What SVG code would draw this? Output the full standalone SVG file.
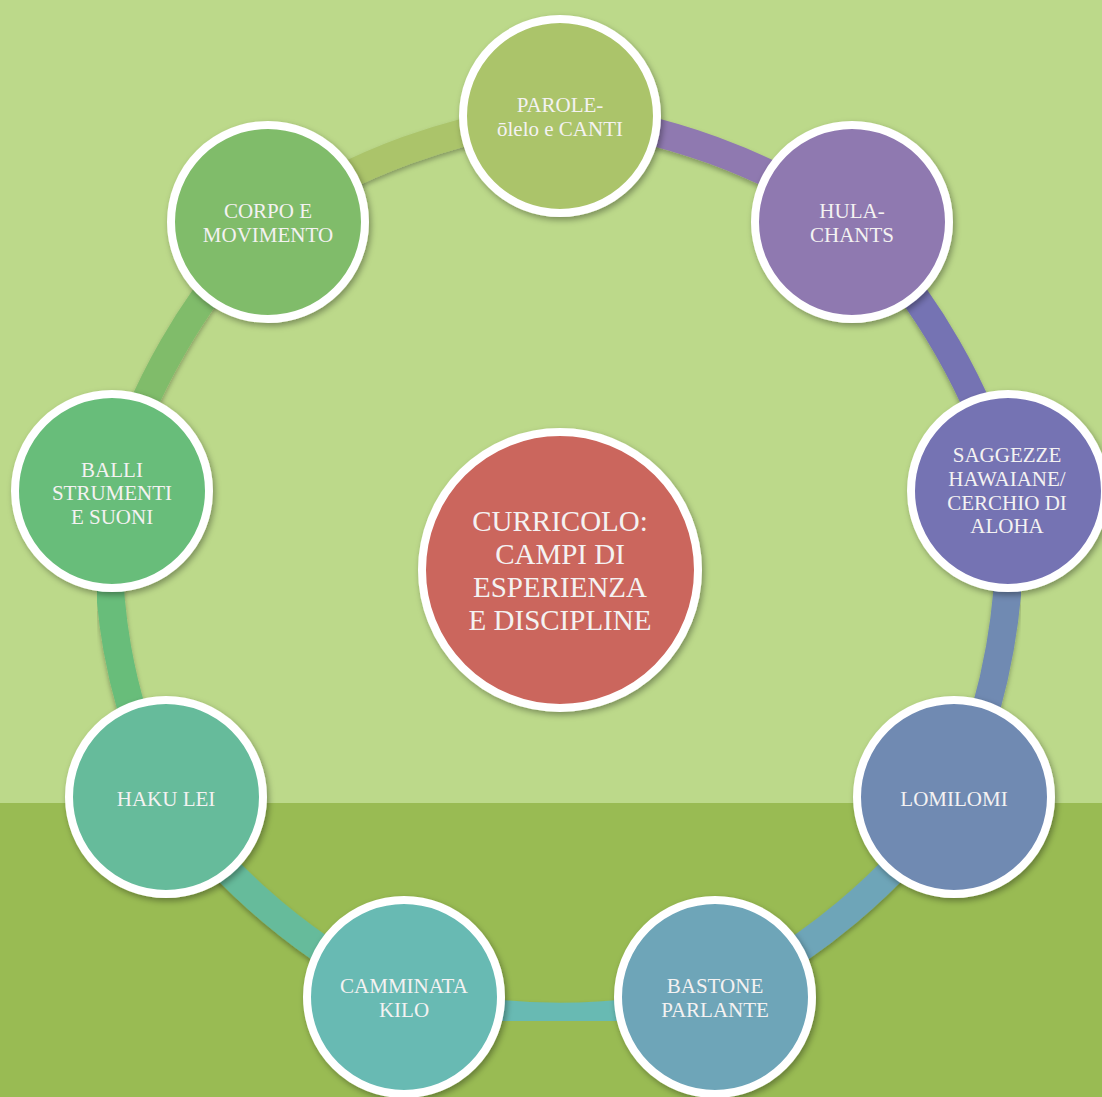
<svg xmlns="http://www.w3.org/2000/svg" width="1102" height="1097" viewBox="0 0 1102 1097">
<defs>
<filter id="sh" x="-20%" y="-20%" width="140%" height="140%">
<feDropShadow dx="2" dy="3" stdDeviation="3" flood-color="#000" flood-opacity="0.35"/>
</filter>
<filter id="bsh" x="-20%" y="-20%" width="140%" height="140%">
<feDropShadow dx="0" dy="3" stdDeviation="2.5" flood-color="#000" flood-opacity="0.3"/>
</filter>
</defs>
<style>
.node{stroke:#ffffff;stroke-width:8;filter:url(#sh)}
.band{fill:none;stroke-width:28;filter:url(#bsh)}
.lbl{font-family:"Liberation Serif","Times New Roman",serif;font-size:21px;fill:#f4f2f2;text-anchor:middle}
.big{font-size:29px}
</style>
<rect x="0" y="0" width="1102" height="803" fill="#bcd98a"/>
<rect x="0" y="803" width="1102" height="294" fill="#99bb53"/>
<g id="connectors">
<path class="band" stroke="#8f79b0" d="M560,115 A640,640 0 0 1 852.5,221.5"/>
<path class="band" stroke="#7573b3" d="M852.5,221.5 A640,640 0 0 1 1008.1,491"/>
<path class="band" stroke="#708ab2" d="M1008.1,491 A640,640 0 0 1 954,797.5"/>
<path class="band" stroke="#6ea5b8" d="M954,797.5 A640,640 0 0 1 715.6,997.6"/>
<path class="band" stroke="#67bab3" d="M715.6,997.6 A640,640 0 0 1 404.4,997.6"/>
<path class="band" stroke="#66bb9b" d="M404.4,997.6 A640,640 0 0 1 166,797.5"/>
<path class="band" stroke="#68bd7a" d="M166,797.5 A560,560 0 0 1 111.9,491"/>
<path class="band" stroke="#80bc6b" d="M111.9,491 A640,640 0 0 1 267.5,221.5"/>
<path class="band" stroke="#abc46b" d="M267.5,221.5 A640,640 0 0 1 560,115"/>
</g>
<g id="center">
<circle class="node" cx="560" cy="570" r="138" fill="#cb665d"/>
<text class="lbl big" x="560" y="531">CURRICOLO:</text>
<text class="lbl big" x="560" y="564">CAMPI DI</text>
<text class="lbl big" x="560" y="597">ESPERIENZA</text>
<text class="lbl big" x="560" y="630">E DISCIPLINE</text>
</g>
<g id="n1">
<circle class="node" cx="560" cy="116" r="97" fill="#abc46b"/>
<text class="lbl" x="560" y="112">PAROLE-</text>
<text class="lbl" x="560" y="135.5">ōlelo e CANTI</text>
</g>
<g id="n2">
<circle class="node" cx="852" cy="222" r="97" fill="#8f79b0"/>
<text class="lbl" x="852" y="218">HULA-</text>
<text class="lbl" x="852" y="242">CHANTS</text>
</g>
<g id="n3">
<circle class="node" cx="1008" cy="491" r="97" fill="#7573b3"/>
<text class="lbl" x="1007" y="462">SAGGEZZE</text>
<text class="lbl" x="1007" y="485.5">HAWAIANE/</text>
<text class="lbl" x="1007" y="509.5">CERCHIO DI</text>
<text class="lbl" x="1007" y="533">ALOHA</text>
</g>
<g id="n4">
<circle class="node" cx="954" cy="797" r="97" fill="#708ab2"/>
<text class="lbl" x="954" y="806">LOMILOMI</text>
</g>
<g id="n5">
<circle class="node" cx="715" cy="997" r="97" fill="#6ea5b8"/>
<text class="lbl" x="715" y="993">BASTONE</text>
<text class="lbl" x="715" y="1017">PARLANTE</text>
</g>
<g id="n6">
<circle class="node" cx="404" cy="997" r="97" fill="#67bab3"/>
<text class="lbl" x="404" y="993">CAMMINATA</text>
<text class="lbl" x="404" y="1017">KILO</text>
</g>
<g id="n7">
<circle class="node" cx="166" cy="797" r="97" fill="#66bb9b"/>
<text class="lbl" x="166" y="806">HAKU LEI</text>
</g>
<g id="n8">
<circle class="node" cx="112" cy="491" r="97" fill="#68bd7a"/>
<text class="lbl" x="112" y="477">BALLI</text>
<text class="lbl" x="112" y="500">STRUMENTI</text>
<text class="lbl" x="112" y="523.5">E SUONI</text>
</g>
<g id="n9">
<circle class="node" cx="268" cy="222" r="97" fill="#80bc6b"/>
<text class="lbl" x="268" y="218">CORPO E</text>
<text class="lbl" x="268" y="242">MOVIMENTO</text>
</g>
</svg>
